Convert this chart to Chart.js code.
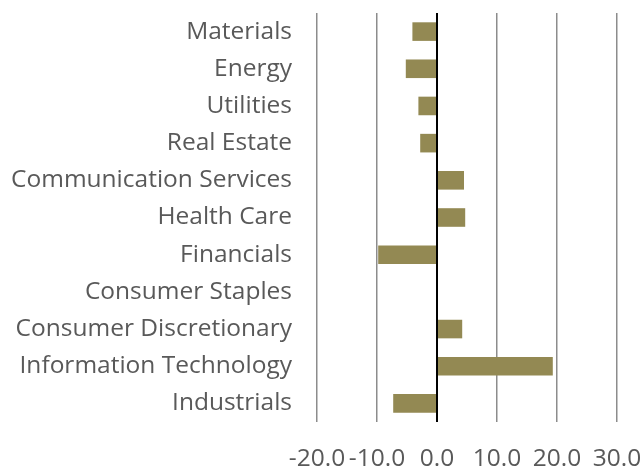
<!DOCTYPE html>
<html>
<head>
<meta charset="utf-8">
<script src="https://cdn.jsdelivr.net/npm/chart.js@4"></script>
<style>
  html, body { margin: 0; padding: 0; background: #fff; }
  #wrap { width: 640px; height: 468px; }
</style>
</head>
<body>
<div id="wrap"><canvas id="sectorChart" width="640" height="468"></canvas></div>
<script>
// sector contributions, top to bottom as drawn
const sectors = ['Materials', 'Energy', 'Utilities', 'Real Estate', 'Communication Services',
  'Health Care', 'Financials', 'Consumer Staples', 'Consumer Discretionary',
  'Information Technology', 'Industrials']
const values = [-4.1, -5.2, -3.1, -2.8, 4.5, 4.7, -9.8, 0, 4.2, 19.3, -7.3]
const xMin = -20
const xMax = 30
const xStep = 10

const textColor = '#595959'
const labelFont = { family: '"Open Sans", sans-serif', size: 24.5 }

document.addEventListener('DOMContentLoaded', function () {
  var ctx = document.getElementById('sectorChart').getContext('2d')
  new Chart(ctx, {
    type: 'bar',
    data: {
      labels: sectors,
      datasets: [
        {
          data: values,
          backgroundColor: '#938953',
          borderWidth: 0,
          barPercentage: 0.5,
          categoryPercentage: 1.0,
        },
      ],
    },
    options: {
      indexAxis: 'y',
      responsive: false,
      animation: false,
      layout: { padding: { top: 13, left: 0, right: 0, bottom: 0 } },
      plugins: { legend: { display: false }, tooltip: { enabled: false } },
      scales: {
        x: {
          min: xMin,
          max: xMax,
          z: 1,
          border: { display: false },
          grid: {
            drawTicks: false,
            color: (c) => (c.tick && c.tick.value === 0 ? '#000000' : '#8c8c8c'),
            lineWidth: (c) => (c.tick && c.tick.value === 0 ? 2 : 1.5),
          },
          ticks: {
            stepSize: xStep,
            color: textColor,
            font: labelFont,
            padding: 22,
            maxRotation: 0,
            autoSkip: false,
            callback: (v) => Number(v).toFixed(1),
          },
          afterFit: function (scale) {
            scale.height = 46
            scale.paddingRight = 23
            scale.paddingLeft = 0
          },
        },
        y: {
          border: { display: false },
          grid: { display: false, drawTicks: false },
          ticks: {
            color: textColor,
            font: labelFont,
            padding: 25,
            autoSkip: false,
          },
          afterFit: function (scale) {
            scale.width = 317
            scale.paddingTop = 0
            scale.paddingBottom = 0
          },
        },
      },
    },
  })
})
</script>
</body>
</html>
